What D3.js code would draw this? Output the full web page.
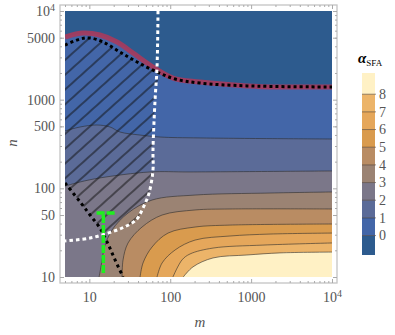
<!DOCTYPE html>
<html>
<head>
<meta charset="utf-8">
<script src="https://cdn.jsdelivr.net/npm/d3@7"></script>
<style>
  body { margin: 0; background: #fff; }
  text { font-family: "Liberation Serif", "DejaVu Serif", serif; }
</style>
</head>
<body>
<div id="chart"></div>
<script>
// contour map of alpha_SFA over (m, n), log-log

var svgWidth = 395;
var svgHeight = 335;

// contour levels and the colour range of the legend bar
var levels = [0, 1, 2, 3, 4, 5, 6, 7, 8];
var legendRange = [-1.1, 9.2];

// contour lines, [m, n] pairs
var alpha0 = [[5, 5090], [8.4, 5650], [13.5, 5360], [22, 4470], [34.7, 3360], [56.2, 2460], [108, 1750], [233, 1580], [889, 1430], [2280, 1390], [10000, 1390]];
var alpha1 = [[5, 444], [7.7, 492], [12.4, 518], [18, 492], [23.9, 432], [42.4, 399], [74.8, 379], [233, 370], [10000, 360]];
var alpha2 = [[5, 106], [7.7, 118], [13.5, 131], [56.2, 153], [176, 153], [10000, 157]];
var alpha3 = [[13.2, 10], [14.2, 14.4], [15.4, 21.8], [19.1, 33.9], [30.1, 52.7], [59.6, 73.8], [203, 84], [1710, 88.5], [10000, 91]];
var alpha4 = [[25.4, 10], [26.1, 15.6], [30.1, 24.2], [44.8, 36.6], [79.3, 50], [203, 57], [549, 58.5], [10000, 58.5]];
var alpha5 = [[42.4, 10], [46.1, 14.4], [59.6, 21.8], [94, 31.3], [203, 36.6], [549, 38.5], [10000, 39.6]];
var alpha6 = [[68.7, 10], [79.3, 14.4], [115, 20.2], [203, 26.1], [549, 29], [1710, 30.5], [10000, 31.3]];
var alpha7 = [[108, 10], [140, 15.6], [176, 18.2], [338, 21.2], [1400, 22.9], [10000, 24.2]];
var alpha8 = [[145, 10], [191, 13], [338, 16.4], [889, 17.7], [2280, 18.7], [10000, 19.1]];
var contours = [alpha0, alpha1, alpha2, alpha3, alpha4, alpha5, alpha6, alpha7, alpha8];

// overlay curves
var hatchTop = [[5, 4130], [7.7, 4830], [10.2, 4960], [14.8, 4470], [23.9, 3440], [38.9, 2660], [68.7, 2050], [115, 1710], [233, 1540], [889, 1430], [10000, 1390]];
var diagLine = [[5, 115], [7.7, 70.2], [10.2, 50], [13.5, 35.7], [16.6, 24.8], [20.8, 15.6], [26.1, 10]];
var whiteCurve = [[70.6, 10000], [68.7, 2330], [64.9, 991], [61.2, 270], [61.2, 161], [54.7, 88.5], [46.1, 60], [37.8, 44], [25.4, 35.7], [17, 31.3], [10.2, 27.5], [5, 25.5]];
var hatchRegion = [[5, 4130], [7.7, 4830], [10.2, 4960], [14.8, 4470], [23.9, 3440], [38.9, 2660], [68.7, 2050],
  [64.9, 991], [61.2, 270], [61.2, 161], [54.7, 88.5], [46.1, 60], [37.8, 44], [25.4, 35.7], [17, 31.3], [14.8, 30.4],
  [13.5, 35.7], [10.2, 50], [7.7, 70.2], [5, 115]];
var greenV = [[14.9, 11.1], [14.9, 52.7]];
var greenH = [[12.3, 52.7], [21.4, 52.7]];

// tick labels
var xTicks = [10, 100, 1000, 10000];
var yTicks = [10, 50, 100, 500, 1000, 5000, 10000];

// colours, one per band from below 0 up to above 8
var bandColors = ["#2d5b8e", "#4366a8", "#5b6b98", "#7b7789", "#9b8373", "#b98c63", "#d99b4e", "#e5a75b", "#ecb469", "#fff1c5"];

var svg = d3.select("#chart").append("svg")
  .attr("width", svgWidth)
  .attr("height", svgHeight);

var x = d3.scaleLog().domain([5, 10000]).range([65, 332]);
var y = d3.scaleLog().domain([10, 10000]).range([277, 11]);

var line = d3.line()
  .x(d => x(d[0]))
  .y(d => y(d[1]))
  .curve(d3.curveCatmullRom.alpha(0.5));

var defs = svg.append("defs");
defs.append("clipPath").attr("id", "plotClip")
  .append("rect")
  .attr("x", x(5)).attr("y", y(10000))
  .attr("width", x(10000) - x(5)).attr("height", y(10) - y(10000));

// diagonal hatching
var hatch = defs.append("pattern")
  .attr("id", "hatch")
  .attr("patternUnits", "userSpaceOnUse")
  .attr("width", 30).attr("height", 11)
  .attr("patternTransform", "translate(65,60) rotate(-42)");
hatch.append("path")
  .attr("d", "M0,0H30M0,11H30")
  .attr("stroke", "#111")
  .attr("stroke-width", 1.2);

var plot = svg.append("g").attr("clip-path", "url(#plotClip)");

// background = band below the lowest level
plot.append("rect")
  .attr("x", x(5)).attr("y", y(10000))
  .attr("width", x(10000) - x(5)).attr("height", y(10) - y(10000))
  .attr("fill", bandColors[0]);

var corner = `L${x(10000)},${y(10)}L${x(5)},${y(10)}Z`;

contours.forEach(function(c, i) {
  plot.append("path")
    .attr("d", line(c) + corner)
    .attr("fill", bandColors[i + 1]);
});

contours.forEach(function(c, i) {
  if (i === 0) return;
  plot.append("path")
    .attr("d", line(c))
    .attr("fill", "none")
    .attr("stroke", "#2a2a2a")
    .attr("stroke-opacity", 0.65)
    .attr("stroke-width", 0.9);
});

// hatched region
plot.append("path")
  .attr("d", line(hatchRegion) + "Z")
  .attr("fill", "url(#hatch)");

// alpha = 0 boundary in red
plot.append("path")
  .attr("d", line(alpha0))
  .attr("fill", "none")
  .attr("stroke", "#a83a5c")
  .attr("stroke-opacity", 0.9)
  .attr("stroke-width", 5);

plot.append("path")
  .attr("d", line(hatchTop))
  .attr("fill", "none")
  .attr("stroke", "#000")
  .attr("stroke-width", 3)
  .attr("stroke-dasharray", "3,3");

plot.append("path")
  .attr("d", line(diagLine))
  .attr("fill", "none")
  .attr("stroke", "#000")
  .attr("stroke-width", 3)
  .attr("stroke-dasharray", "3,3.5");

plot.append("path")
  .attr("d", line(whiteCurve))
  .attr("fill", "none")
  .attr("stroke", "#fff")
  .attr("stroke-width", 3)
  .attr("stroke-dasharray", "3.5,3");

[greenV, greenH].forEach(function(g) {
  plot.append("path")
    .attr("d", d3.line().x(d => x(d[0])).y(d => y(d[1]))(g))
    .attr("fill", "none")
    .attr("stroke", "#1ef01e")
    .attr("stroke-width", 3.5)
    .attr("stroke-dasharray", "8,2");
});

// frame
svg.append("rect")
  .attr("x", 60).attr("y", 5)
  .attr("width", 277).attr("height", 278)
  .attr("fill", "none")
  .attr("stroke", "#c4c4c4")
  .attr("stroke-width", 1.3);

// minor tick values
var minorX = [], minorY = [];
[1, 10, 100, 1000].forEach(function(p) {
  for (var k = 2; k <= 9; k++) {
    if (p * k >= 5 && p * k <= 10000) minorX.push(p * k);
    if (p * k >= 10 && p * k <= 10000) minorY.push(p * k);
  }
});

function fmt(d) { return d === 10000 ? "10" : String(d); }

function styleAxis(g) {
  g.select(".domain").remove();
  g.selectAll(".tick line").attr("stroke", "#aaa");
  g.selectAll(".tick text")
    .attr("fill", "#555")
    .attr("font-size", 14)
    .each(function(d) {
      var t = d3.select(this);
      if (d === 10000 && t.text() !== "") {
        t.append("tspan")
          .attr("font-size", 10)
          .attr("dy", "-0.5em")
          .text("4");
      }
    });
}

svg.append("g").attr("transform", "translate(0,283)")
  .call(d3.axisBottom(x).tickValues(xTicks).tickFormat(fmt).tickSizeInner(-4).tickSizeOuter(0).tickPadding(9))
  .call(styleAxis);
svg.append("g").attr("transform", "translate(0,283)")
  .call(d3.axisBottom(x).tickValues(minorX).tickFormat("").tickSizeInner(-2).tickSizeOuter(0))
  .call(styleAxis);
svg.append("g").attr("transform", "translate(0,5)")
  .call(d3.axisTop(x).tickValues(xTicks).tickFormat("").tickSizeInner(-4).tickSizeOuter(0))
  .call(styleAxis);
svg.append("g").attr("transform", "translate(0,5)")
  .call(d3.axisTop(x).tickValues(minorX).tickFormat("").tickSizeInner(-2).tickSizeOuter(0))
  .call(styleAxis);

svg.append("g").attr("transform", "translate(60,0)")
  .call(d3.axisLeft(y).tickValues(yTicks).tickFormat(fmt).tickSizeInner(-4).tickSizeOuter(0).tickPadding(5))
  .call(styleAxis);
svg.append("g").attr("transform", "translate(60,0)")
  .call(d3.axisLeft(y).tickValues(minorY).tickFormat("").tickSizeInner(-2).tickSizeOuter(0))
  .call(styleAxis);
svg.append("g").attr("transform", "translate(337,0)")
  .call(d3.axisRight(y).tickValues(yTicks).tickFormat("").tickSizeInner(-4).tickSizeOuter(0))
  .call(styleAxis);
svg.append("g").attr("transform", "translate(337,0)")
  .call(d3.axisRight(y).tickValues(minorY).tickFormat("").tickSizeInner(-2).tickSizeOuter(0))
  .call(styleAxis);

// axis titles
svg.append("text")
  .attr("x", 200).attr("y", 327)
  .attr("text-anchor", "middle")
  .attr("font-style", "italic")
  .attr("font-size", 15)
  .attr("fill", "#555")
  .text("m");

svg.append("text")
  .attr("transform", "translate(17,143) rotate(-90)")
  .attr("text-anchor", "middle")
  .attr("font-style", "italic")
  .attr("font-size", 15)
  .attr("fill", "#555")
  .text("n");

// colour bar legend
var c = d3.scaleLinear().domain(legendRange).range([255, 73]);
var bandEdges = [legendRange[0]].concat(levels, [legendRange[1]]);
var legend = svg.append("g");

legend.selectAll("rect")
  .data(bandColors)
  .enter()
  .append("rect")
  .attr("x", 362)
  .attr("width", 13)
  .attr("y", (d, i) => c(bandEdges[i + 1]))
  .attr("height", (d, i) => c(bandEdges[i]) - c(bandEdges[i + 1]))
  .attr("fill", d => d);

legend.selectAll("line")
  .data(levels)
  .enter()
  .append("line")
  .attr("x1", 362).attr("x2", 376)
  .attr("y1", d => c(d)).attr("y2", d => c(d))
  .attr("stroke", "#3a2a20")
  .attr("stroke-opacity", 0.6)
  .attr("stroke-width", 0.9);

legend.selectAll("text.lab")
  .data(levels)
  .enter()
  .append("text")
  .attr("class", "lab")
  .attr("x", 379)
  .attr("y", d => c(d))
  .attr("dy", "0.35em")
  .attr("font-size", 14)
  .attr("fill", "#555")
  .text(d => d);

var title = svg.append("text")
  .attr("x", 358).attr("y", 63)
  .attr("font-size", 15);
title.append("tspan")
  .attr("font-weight", "bold")
  .attr("font-style", "italic")
  .text("α");
title.append("tspan")
  .attr("font-size", 9)
  .attr("dy", 3)
  .text("SFA");
</script>
</body>
</html>
